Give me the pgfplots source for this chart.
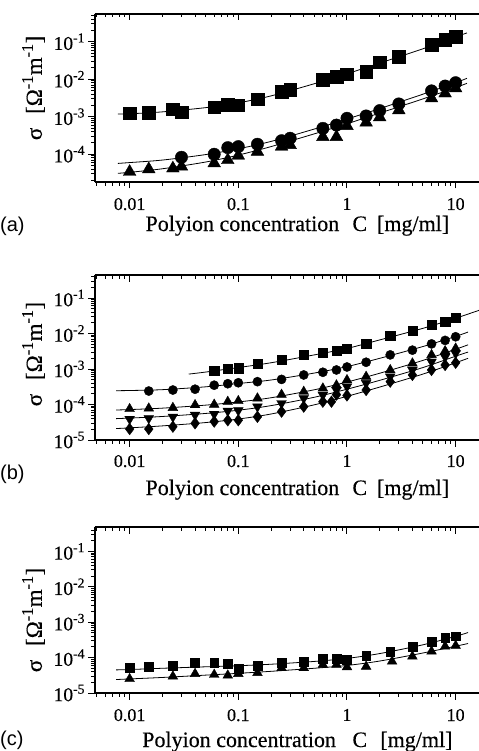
\documentclass[border=0pt]{standalone}
\usepackage{fontspec}
\setmainfont{Liberation Serif}[FakeBold=0.4]
\newfontfamily\panelfont{Liberation Sans}
\usepackage{pgfplots}
\pgfplotsset{compat=1.18}
\begin{document}
\begin{tikzpicture}
\useasboundingbox (0,0) rectangle (479bp,-751bp);
% ---------------- (a)
\begin{axis}[xmode=log, ymode=log, scale only axis, width=384bp, height=168bp,
  at={(95bp,-14bp)}, anchor=north west,
  xmin=0.0048, xmax=16.4, ymin=1.82e-5, ymax=0.55,
  axis x line=box, axis y line=left,
  axis line style={-, line width=1.4bp},
  tick align=outside, xtick pos=left, ytick pos=left,
  major tick length=6.5bp, minor tick length=3.5bp,
  tick style={line width=1bp, black},
  xtick={0.01,0.1,1,10}, xticklabels={0.01,0.1,1,10},
  minor xtick={0.005,0.006,0.007,0.008,0.009,0.02,0.03,0.04,0.05,0.06,0.07,0.08,0.09,0.2,0.3,0.4,0.5,0.6,0.7,0.8,0.9,2,3,4,5,6,7,8,9},
  ytick={1e-4,1e-3,1e-2,1e-1},
  yticklabels={10\textsuperscript{-4},10\textsuperscript{-3},10\textsuperscript{-2},10\textsuperscript{-1}},
  minor ytick={2e-5,3e-5,4e-5,5e-5,6e-5,7e-5,8e-5,9e-5,2e-4,3e-4,4e-4,5e-4,6e-4,7e-4,8e-4,9e-4,2e-3,3e-3,4e-3,5e-3,6e-3,7e-3,8e-3,9e-3,2e-2,3e-2,4e-2,5e-2,6e-2,7e-2,8e-2,9e-2,0.2,0.3,0.4,0.5},
  xticklabel style={font=\fontsize{18bp}{20bp}\selectfont, yshift=-6bp},
  yticklabel style={font=\fontsize{19.5bp}{21bp}\selectfont},
  xlabel={Polyion concentration\hspace{0.6em}C\hspace{0.45em}[mg/ml]},
  ylabel={σ\hspace{0.6em}[Ω\textsuperscript{-1}m\textsuperscript{-1}]},
  xlabel style={font=\fontsize{22bp}{24bp}\selectfont, at={(axis description cs:0.527,0)}, anchor=base, yshift=-49bp},
  ylabel style={font=\fontsize{23bp}{25bp}\selectfont, at={(axis description cs:-0.16,0.56)}, anchor=center}]
\addplot[black, line width=0.8bp, smooth, mark=none] coordinates {(0.0078,1.18e-3)(0.01,1.2e-3)(0.02,1.35e-3)(0.05,1.75e-3)(0.1,2.35e-3)(0.2,3.6e-3)(0.5,7.6e-3)(1,1.4e-2)(2,2.7e-2)(5,6.5e-2)(10,0.135)(12.7,0.172)};
\addplot[black, line width=0.8bp, smooth, mark=none] coordinates {(0.0078,5.7e-5)(0.01,6.0e-5)(0.02,7.0e-5)(0.05,9.8e-5)(0.1,1.4e-4)(0.2,2.2e-4)(0.5,4.7e-4)(1,8.7e-4)(2,1.65e-3)(5,4.0e-3)(10,8.1e-3)(12.7,1.06e-2)};
\addplot[black, line width=0.8bp, smooth, mark=none] coordinates {(0.0078,3.1e-5)(0.01,3.3e-5)(0.02,4.1e-5)(0.05,6.2e-5)(0.1,9.5e-5)(0.2,1.6e-4)(0.5,3.5e-4)(1,6.5e-4)(2,1.25e-3)(5,3.0e-3)(10,6.0e-3)(12.7,7.8e-3)};
\addplot[black, only marks, mark=square*, mark size=6.3bp] coordinates {(0.01,1.24e-3)(0.015,1.29e-3)(0.025,1.6e-3)(0.03,1.32e-3)(0.06,1.79e-3)(0.08,2.07e-3)(0.1,2.02e-3)(0.15,2.93e-3)(0.25,4.67e-3)(0.3,5.2e-3)(0.6,9.6e-3)(0.8,1.17e-2)(1,1.38e-2)(1.5,1.6e-2)(2,2.84e-2)(3,4.0e-2)(6,8.2e-2)(8,0.112)(10,0.137)};
\addplot[black, only marks, mark=*, mark size=6.2bp] coordinates {(0.03,8.3e-5)(0.06,1.0e-4)(0.08,1.5e-4)(0.1,1.6e-4)(0.15,1.85e-4)(0.25,2.3e-4)(0.3,2.67e-4)(0.6,4.9e-4)(0.8,6.0e-4)(1,9.1e-4)(1.5,1.05e-3)(2,1.46e-3)(3,2.2e-3)(6,4.9e-3)(8,6.6e-3)(10,8.1e-3)};
\addplot[black, only marks, mark=triangle*, mark size=7.3bp] coordinates {(0.01,3.4e-5)(0.015,4.0e-5)(0.025,4.2e-5)(0.03,4.7e-5)(0.06,5.75e-5)(0.08,7.0e-5)(0.1,9.2e-5)(0.15,1.17e-4)(0.25,1.6e-4)(0.3,1.77e-4)(0.6,2.9e-4)(0.8,2.9e-4)(1,5.7e-4)(1.5,7.0e-4)(2,9.7e-4)(3,1.5e-3)(6,3.1e-3)(8,4.2e-3)(10,5.75e-3)};
\end{axis}
\begin{axis}[xmode=log, ymode=log, scale only axis, width=384bp, height=168bp,
  at={(95bp,-14bp)}, anchor=north west,
  xmin=0.0048, xmax=16.4, ymin=1.82e-5, ymax=0.55,
  axis x line*=top, axis y line=none, axis line style={-, line width=1.4bp},
  tick align=inside, xtick pos=right,
  major tick length=6.5bp, minor tick length=3.5bp,
  tick style={line width=1bp, black},
  xtick={0.01,0.1,1,10}, xticklabels={},
  minor xtick={0.005,0.006,0.007,0.008,0.009,0.02,0.03,0.04,0.05,0.06,0.07,0.08,0.09,0.2,0.3,0.4,0.5,0.6,0.7,0.8,0.9,2,3,4,5,6,7,8,9},
  ytick=\empty]
\end{axis}
% ---------------- (b)
\begin{axis}[xmode=log, ymode=log, scale only axis, width=384bp, height=165bp,
  at={(95bp,-275bp)}, anchor=north west,
  xmin=0.0048, xmax=16.4, ymin=1e-5, ymax=0.445,
  axis x line=box, axis y line=left,
  axis line style={-, line width=1.4bp},
  tick align=outside, xtick pos=left, ytick pos=left,
  major tick length=6.5bp, minor tick length=3.5bp,
  tick style={line width=1bp, black},
  xtick={0.01,0.1,1,10}, xticklabels={0.01,0.1,1,10},
  minor xtick={0.005,0.006,0.007,0.008,0.009,0.02,0.03,0.04,0.05,0.06,0.07,0.08,0.09,0.2,0.3,0.4,0.5,0.6,0.7,0.8,0.9,2,3,4,5,6,7,8,9},
  ytick={1e-5,1e-4,1e-3,1e-2,1e-1},
  yticklabels={10\textsuperscript{-5},10\textsuperscript{-4},10\textsuperscript{-3},10\textsuperscript{-2},10\textsuperscript{-1}},
  minor ytick={2e-5,3e-5,4e-5,5e-5,6e-5,7e-5,8e-5,9e-5,2e-4,3e-4,4e-4,5e-4,6e-4,7e-4,8e-4,9e-4,2e-3,3e-3,4e-3,5e-3,6e-3,7e-3,8e-3,9e-3,2e-2,3e-2,4e-2,5e-2,6e-2,7e-2,8e-2,9e-2,0.2,0.3,0.4},
  xticklabel style={font=\fontsize{18bp}{20bp}\selectfont, yshift=-5bp},
  yticklabel style={font=\fontsize{19.5bp}{21bp}\selectfont},
  xlabel={Polyion concentration\hspace{0.6em}C\hspace{0.45em}[mg/ml]},
  ylabel={σ\hspace{0.6em}[Ω\textsuperscript{-1}m\textsuperscript{-1}]},
  xlabel style={font=\fontsize{22bp}{24bp}\selectfont, at={(axis description cs:0.527,0)}, anchor=base, yshift=-55bp},
  ylabel style={font=\fontsize{23bp}{25bp}\selectfont, at={(axis description cs:-0.16,0.521)}, anchor=center}]
\addplot[black, line width=0.8bp, smooth, mark=none] coordinates {(0.035,7.2e-4)(0.05,8.2e-4)(0.1,1.1e-3)(0.2,1.5e-3)(0.5,2.5e-3)(1,3.8e-3)(2,6.6e-3)(5,1.4e-2)(10,2.7e-2)(16.4,4.5e-2)};
\addplot[black, line width=0.8bp, smooth, mark=none] coordinates {(0.0075,2.45e-4)(0.01,2.48e-4)(0.02,2.62e-4)(0.05,3.15e-4)(0.1,3.9e-4)(0.2,4.9e-4)(0.5,7.7e-4)(1,1.17e-3)(2,2.0e-3)(5,4.3e-3)(10,8.3e-3)(13,1.1e-2)};
\addplot[black, line width=0.8bp, smooth, mark=none] coordinates {(0.0075,7.0e-5)(0.01,7.2e-5)(0.02,7.9e-5)(0.05,9.6e-5)(0.1,1.18e-4)(0.2,1.55e-4)(0.5,2.6e-4)(1,4.3e-4)(2,7.6e-4)(5,1.75e-3)(10,3.6e-3)(13,4.8e-3)};
\addplot[black, line width=0.8bp, smooth, mark=none] coordinates {(0.0075,4.0e-5)(0.01,4.15e-5)(0.02,4.6e-5)(0.05,5.6e-5)(0.1,6.9e-5)(0.2,9.3e-5)(0.5,1.6e-4)(1,2.7e-4)(2,4.8e-4)(5,1.1e-3)(10,2.3e-3)(13,3.0e-3)};
\addplot[black, line width=0.8bp, smooth, mark=none] coordinates {(0.0075,2.1e-5)(0.01,2.2e-5)(0.02,2.5e-5)(0.05,3.1e-5)(0.1,3.9e-5)(0.2,5.4e-5)(0.5,9.8e-5)(1,1.7e-4)(2,3.1e-4)(5,7.2e-4)(10,1.5e-3)(13,2.0e-3)};
\addplot[black, only marks, mark=square*, mark size=4.6bp] coordinates {(0.06,8.8e-4)(0.08,1.02e-3)(0.1,1.05e-3)(0.15,1.44e-3)(0.25,1.8e-3)(0.4,2.5e-3)(0.6,2.95e-3)(0.8,3.36e-3)(1,3.66e-3)(1.5,5.3e-3)(2.5,8.7e-3)(4,1.2e-2)(6,1.74e-2)(8,2.15e-2)(10,2.8e-2)};
\addplot[black, only marks, mark=*, mark size=4.6bp] coordinates {(0.015,2.4e-4)(0.025,2.56e-4)(0.04,2.7e-4)(0.06,3.5e-4)(0.08,3.85e-4)(0.1,4.1e-4)(0.15,4.4e-4)(0.25,5.1e-4)(0.4,6.8e-4)(0.6,8.1e-4)(0.8,9.4e-4)(1,1.14e-3)(1.5,1.55e-3)(2.5,2.5e-3)(4,3.4e-3)(6,5.1e-3)(8,6.4e-3)(10,8.1e-3)};
\addplot[black, only marks, mark=triangle*, mark size=5.6bp] coordinates {(0.01,7.5e-5)(0.015,7.8e-5)(0.025,8.1e-5)(0.04,9.7e-5)(0.06,1.0e-4)(0.08,1.2e-4)(0.1,1.26e-4)(0.15,1.5e-4)(0.25,1.9e-4)(0.4,2.3e-4)(0.6,2.86e-4)(0.8,3.5e-4)(1,4.9e-4)(1.5,6.1e-4)(2.5,9.4e-4)(4,1.45e-3)(6,2.5e-3)(8,3.2e-3)(10,3.8e-3)};
\addplot[black, only marks, mark=triangle*, mark size=5.6bp, mark options={rotate=180}] coordinates {(0.01,3.9e-5)(0.015,4.1e-5)(0.025,4.5e-5)(0.04,5.1e-5)(0.06,5.4e-5)(0.08,6.6e-5)(0.1,6.8e-5)(0.15,8.7e-5)(0.25,1.08e-4)(0.4,1.5e-4)(0.6,1.85e-4)(0.8,2.56e-4)(1,3.2e-4)(1.5,4.0e-4)(2.5,6.1e-4)(4,9.4e-4)(6,1.6e-3)(8,2.2e-3)(10,2.77e-3)};
\addplot[black, only marks, mark=diamond*, mark size=5.8bp] coordinates {(0.01,2.04e-5)(0.015,2.04e-5)(0.025,2.37e-5)(0.04,2.95e-5)(0.06,3.3e-5)(0.08,3.6e-5)(0.1,3.6e-5)(0.15,4.5e-5)(0.25,6.3e-5)(0.4,8.7e-5)(0.6,1.2e-4)(0.72,1.2e-4)(0.8,1.9e-4)(1,1.8e-4)(1.5,2.56e-4)(2.5,4.4e-4)(4,6.8e-4)(6,9.4e-4)(8,1.3e-3)(10,1.5e-3)};
\end{axis}
\begin{axis}[xmode=log, ymode=log, scale only axis, width=384bp, height=165bp,
  at={(95bp,-275bp)}, anchor=north west,
  xmin=0.0048, xmax=16.4, ymin=1e-5, ymax=0.445,
  axis x line*=top, axis y line=none, axis line style={-, line width=1.4bp},
  tick align=inside, xtick pos=right,
  major tick length=6.5bp, minor tick length=3.5bp,
  tick style={line width=1bp, black},
  xtick={0.01,0.1,1,10}, xticklabels={},
  minor xtick={0.005,0.006,0.007,0.008,0.009,0.02,0.03,0.04,0.05,0.06,0.07,0.08,0.09,0.2,0.3,0.4,0.5,0.6,0.7,0.8,0.9,2,3,4,5,6,7,8,9},
  ytick=\empty]
\end{axis}
% ---------------- (c)
\begin{axis}[xmode=log, ymode=log, scale only axis, width=384bp, height=166bp,
  at={(95bp,-527bp)}, anchor=north west,
  xmin=0.0048, xmax=16.4, ymin=1e-5, ymax=0.489,
  axis x line=box, axis y line=left,
  axis line style={-, line width=1.4bp},
  tick align=outside, xtick pos=left, ytick pos=left,
  major tick length=6.5bp, minor tick length=3.5bp,
  tick style={line width=1bp, black},
  xtick={0.01,0.1,1,10}, xticklabels={0.01,0.1,1,10},
  minor xtick={0.005,0.006,0.007,0.008,0.009,0.02,0.03,0.04,0.05,0.06,0.07,0.08,0.09,0.2,0.3,0.4,0.5,0.6,0.7,0.8,0.9,2,3,4,5,6,7,8,9},
  ytick={1e-5,1e-4,1e-3,1e-2,1e-1},
  yticklabels={10\textsuperscript{-5},10\textsuperscript{-4},10\textsuperscript{-3},10\textsuperscript{-2},10\textsuperscript{-1}},
  minor ytick={2e-5,3e-5,4e-5,5e-5,6e-5,7e-5,8e-5,9e-5,2e-4,3e-4,4e-4,5e-4,6e-4,7e-4,8e-4,9e-4,2e-3,3e-3,4e-3,5e-3,6e-3,7e-3,8e-3,9e-3,2e-2,3e-2,4e-2,5e-2,6e-2,7e-2,8e-2,9e-2,0.2,0.3,0.4},
  xticklabel style={font=\fontsize{18bp}{20bp}\selectfont, yshift=-6bp},
  yticklabel style={font=\fontsize{19.5bp}{21bp}\selectfont},
  xlabel={Polyion concentration\hspace{0.75em}C\hspace{0.6em}[mg/ml]},
  ylabel={σ\hspace{0.6em}[Ω\textsuperscript{-1}m\textsuperscript{-1}]},
  xlabel style={font=\fontsize{22bp}{24bp}\selectfont, at={(axis description cs:0.527,0)}, anchor=base, yshift=-54bp},
  ylabel style={font=\fontsize{23bp}{25bp}\selectfont, at={(axis description cs:-0.16,0.44)}, anchor=center}]
\addplot[black, line width=0.8bp, smooth, mark=none] coordinates {(0.0075,4.5e-5)(0.01,4.6e-5)(0.02,5.0e-5)(0.05,5.5e-5)(0.1,5.9e-5)(0.2,6.5e-5)(0.5,7.8e-5)(1,9.5e-5)(2,1.3e-4)(5,2.3e-4)(10,4.0e-4)(13,5.1e-4)};
\addplot[black, line width=0.8bp, smooth, mark=none] coordinates {(0.0075,2.4e-5)(0.01,2.5e-5)(0.02,2.75e-5)(0.05,3.2e-5)(0.1,3.6e-5)(0.2,4.1e-5)(0.5,5.0e-5)(1,6.0e-5)(2,8.0e-5)(5,1.35e-4)(10,2.1e-4)(13,2.5e-4)};
\addplot[black, only marks, mark=square*, mark size=4.4bp] coordinates {(0.01,5.1e-5)(0.015,5.4e-5)(0.025,6.0e-5)(0.04,7.0e-5)(0.06,7.0e-5)(0.08,6.7e-5)(0.1,4.85e-5)(0.15,6.0e-5)(0.25,7.3e-5)(0.4,7.8e-5)(0.6,9.1e-5)(0.8,9.1e-5)(1,8.7e-5)(1.5,1.13e-4)(2.5,1.5e-4)(4,2.07e-4)(6,2.87e-4)(8,3.6e-4)(10,4.0e-4)};
\addplot[black, only marks, mark=triangle*, mark size=5.6bp] coordinates {(0.01,2.5e-5)(0.025,2.95e-5)(0.04,3.5e-5)(0.06,3.3e-5)(0.08,3.15e-5)(0.1,3.5e-5)(0.15,3.7e-5)(0.25,5.1e-5)(0.4,5.1e-5)(0.6,6.3e-5)(0.8,6.3e-5)(1,5.4e-5)(1.5,5.6e-5)(2.6,7.8e-5)(4,1.08e-4)(6,1.5e-4)(8,2.07e-4)(10,2.17e-4)};
\end{axis}
\begin{axis}[xmode=log, ymode=log, scale only axis, width=384bp, height=166bp,
  at={(95bp,-527bp)}, anchor=north west,
  xmin=0.0048, xmax=16.4, ymin=1e-5, ymax=0.489,
  axis x line*=top, axis y line=none, axis line style={-, line width=1.4bp},
  tick align=inside, xtick pos=right,
  major tick length=6.5bp, minor tick length=3.5bp,
  tick style={line width=1bp, black},
  xtick={0.01,0.1,1,10}, xticklabels={},
  minor xtick={0.005,0.006,0.007,0.008,0.009,0.02,0.03,0.04,0.05,0.06,0.07,0.08,0.09,0.2,0.3,0.4,0.5,0.6,0.7,0.8,0.9,2,3,4,5,6,7,8,9},
  ytick=\empty]
\end{axis}
\node[font=\panelfont\fontsize{20bp}{22bp}\selectfont, anchor=base west, inner sep=0pt] at (0bp,-231bp) {(a)};
\node[font=\panelfont\fontsize{20bp}{22bp}\selectfont, anchor=base west, inner sep=0pt] at (0bp,-479bp) {(b)};
\node[font=\panelfont\fontsize{20bp}{22bp}\selectfont, anchor=base west, inner sep=0pt] at (0bp,-745bp) {(c)};
\end{tikzpicture}
\end{document}
